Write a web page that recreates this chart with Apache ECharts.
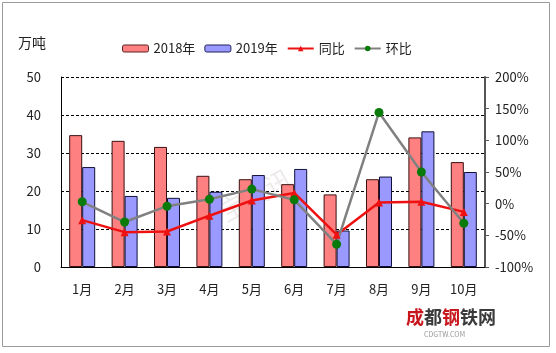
<!DOCTYPE html>
<html>
<head>
<meta charset="utf-8">
<script src="https://cdn.jsdelivr.net/npm/echarts@6/dist/echarts.min.js"></script>
<style>
  html, body { margin: 0; padding: 0; background: #fff; }
  #chart { width: 556px; height: 353px; }
</style>
</head>
<body>
<div id="chart"></div>
<script>
// 月份
const months = ['1月', '2月', '3月', '4月', '5月', '6月', '7月', '8月', '9月', '10月']
// 产量，万吨
const y2018 = [34.7, 33.2, 31.6, 24.0, 23.1, 21.8, 19.1, 23.1, 34.1, 27.6]
const y2019 = [26.3, 18.7, 18.2, 19.8, 24.2, 25.8, 9.6, 23.8, 35.7, 25.0]
// 百分比
const yoy = [-26, -45, -44, -19, 5, 17, -49, 2, 3, -13]
const mom = [3, -29, -4, 7, 23, 6, -64, 144, 50, -31]

const font = '"Noto Sans CJK SC", "DejaVu Sans", sans-serif'

const chart = echarts.init(document.getElementById('chart'))

chart.setOption({
  animation: false,
  backgroundColor: '#fff',
  textStyle: { fontFamily: font },
  graphic: [
    {
      type: 'rect',
      shape: { x: 2.5, y: 2.5, width: 547, height: 344 },
      style: { fill: 'none', stroke: '#9a9a9a', lineWidth: 1 }
    },
    {
      type: 'text',
      left: 18, top: 36,
      style: { text: '万吨', fontSize: 14, fill: '#222', fontFamily: font }
    },
    {
      type: 'text',
      left: 215, top: 165, rotation: 0.5,
      style: { text: '宝资讯', fontSize: 26, fill: 'rgba(200,185,185,0.3)', fontFamily: font }
    },
    {
      type: 'text',
      left: 406, top: 308,
      style: {
        text: '{r|成}{d|都}{r|钢}{d|铁网}',
        fontFamily: font,
        rich: {
          r: { fontSize: 18, fontWeight: 'bold', fill: '#c8161d', fontFamily: font },
          d: { fontSize: 18, fontWeight: 'bold', fill: '#3a3a3a', fontFamily: font }
        }
      }
    },
    {
      type: 'text',
      left: 424, top: 331,
      style: { text: 'CDGTW.COM', fontSize: 7, fill: '#999', fontFamily: font }
    }
  ],
  legend: {
    top: 37,
    left: 117,
    itemGap: 9,
    itemWidth: 26,
    itemHeight: 7,
    textStyle: { fontSize: 13, color: '#222', fontFamily: font },
    data: [
      { name: '2018年', itemStyle: { borderColor: '#5a2020', borderWidth: 1 } },
      { name: '2019年', itemStyle: { borderColor: '#20205a', borderWidth: 1 } },
      { name: '同比' },
      { name: '环比' }
    ]
  },
  grid: {
    left: 61,
    right: 71,
    top: 77,
    bottom: 86
  },
  xAxis: {
    type: 'category',
    data: months,
    axisLine: { lineStyle: { color: '#000', width: 1 } },
    axisTick: { inside: true, length: 5, lineStyle: { color: '#000' } },
    axisLabel: { fontSize: 13, color: '#222', margin: 16 }
  },
  yAxis: [
    {
      type: 'value',
      min: 0,
      max: 50,
      interval: 10,
      axisLine: { show: true, lineStyle: { color: '#000' } },
      axisTick: { show: false },
      axisLabel: { fontSize: 13, color: '#222', margin: 20 },
      splitLine: { lineStyle: { color: '#000', type: [3, 2], width: 1 } }
    },
    {
      type: 'value',
      min: -100,
      max: 200,
      interval: 50,
      axisLine: { show: true, lineStyle: { color: '#555', width: 2 } },
      axisTick: { show: true, length: 4, lineStyle: { color: '#555' } },
      axisLabel: {
        fontSize: 13, color: '#222', margin: 10,
        formatter: '{value}%'
      },
      splitLine: { show: false }
    }
  ],
  series: [
    {
      name: '2018年',
      type: 'bar',
      data: y2018,
      barWidth: 13,
      barGap: '0%',
      itemStyle: { color: '#ff8080', borderColor: '#3a1010', borderWidth: 1 }
    },
    {
      name: '2019年',
      type: 'bar',
      data: y2019,
      barWidth: 13,
      barGap: '0%',
      itemStyle: { color: '#9999ff', borderColor: '#10103a', borderWidth: 1 }
    },
    {
      name: '同比',
      type: 'line',
      yAxisIndex: 1,
      data: yoy,
      symbol: 'triangle',
      symbolSize: 8,
      lineStyle: { color: '#ee1111', width: 2.5 },
      itemStyle: { color: '#ee1111' }
    },
    {
      name: '环比',
      type: 'line',
      yAxisIndex: 1,
      data: mom,
      symbol: 'circle',
      symbolSize: 9,
      lineStyle: { color: '#808080', width: 2.5 },
      itemStyle: { color: '#0a7a0a' }
    }
  ]
})
</script>
</body>
</html>
